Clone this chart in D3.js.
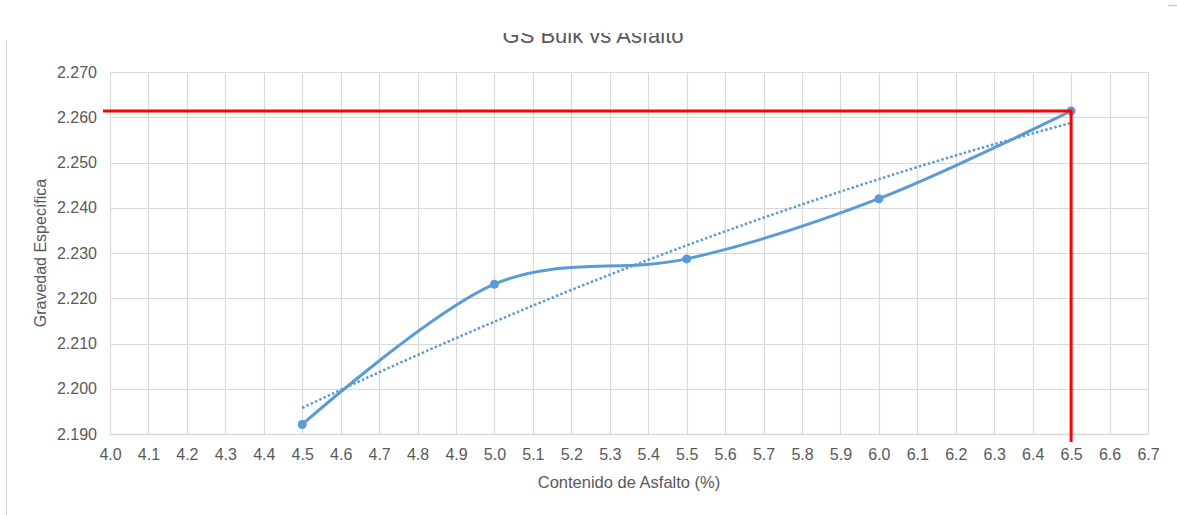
<!DOCTYPE html>
<html>
<head>
<meta charset="utf-8">
<script src="https://cdn.jsdelivr.net/npm/d3@7/dist/d3.min.js"></script>
<style>
  html, body { margin: 0; padding: 0; background: #fff; }
  svg { display: block; }
</style>
</head>
<body>
<svg id="chart" width="1177" height="515"></svg>
<script>
// Asphalt content (%) and bulk specific gravity
const asphalt = [4.5, 5.0, 5.5, 6.0, 6.5];
const gravity = [2.1921, 2.2231, 2.2287, 2.2420, 2.2614];

// Axis tick values
const xTicks = d3.range(40, 68).map(v => v / 10);
const yTicks = [2.19, 2.20, 2.21, 2.22, 2.23, 2.24, 2.25, 2.26, 2.27];

const titleText = "GS Bulk vs Asfalto";
const xTitle = "Contenido de Asfalto (%)";
const yTitle = "Gravedad Específica";

const svg = d3.select("#chart");
const font = "'Liberation Sans', Arial, sans-serif";
const textColor = "#595959";
const gridColor = "#d9d9d9";
const blue = "#5b9bd5";

const x = d3.scaleLinear().domain([4.0, 6.7]).range([110, 1148]);
const y = d3.scaleLinear().domain([2.19, 2.27]).range([434, 72]);

// Second-order polynomial least-squares trend of the data
function polyFit2(xs, ys) {
  const n = xs.length;
  let s = [0, 0, 0, 0, 0], t = [0, 0, 0];
  xs.forEach((xv, i) => {
    for (let k = 0; k < 5; k++) s[k] += Math.pow(xv, k);
    for (let k = 0; k < 3; k++) t[k] += Math.pow(xv, k) * ys[i];
  });
  const M = [[s[0], s[1], s[2], t[0]], [s[1], s[2], s[3], t[1]], [s[2], s[3], s[4], t[2]]];
  for (let c = 0; c < 3; c++) {
    for (let r = c + 1; r < 3; r++) {
      const f = M[r][c] / M[c][c];
      for (let k = c; k < 4; k++) M[r][k] -= f * M[c][k];
    }
  }
  const b = [0, 0, 0];
  for (let r = 2; r >= 0; r--) {
    let v = M[r][3];
    for (let k = r + 1; k < 3; k++) v -= M[r][k] * b[k];
    b[r] = v / M[r][r];
  }
  return xv => b[0] + b[1] * xv + b[2] * xv * xv;
}
const trend = polyFit2(asphalt, gravity);

// Outer frame edge on the left and the small mark at top right
svg.append("line").attr("x1", 6.5).attr("x2", 6.5).attr("y1", 40).attr("y2", 515)
  .attr("stroke", "#d0d0d0").attr("stroke-width", 1);
svg.append("line").attr("x1", 1168).attr("x2", 1177).attr("y1", 5.5).attr("y2", 5.5)
  .attr("stroke", "#c8c8c8").attr("stroke-width", 1.5);

// Chart title, cut off by the top of the chart frame
svg.append("clipPath").attr("id", "titleClip")
  .append("rect").attr("x", 0).attr("y", 33).attr("width", 1177).attr("height", 40);
svg.append("text")
  .attr("clip-path", "url(#titleClip)")
  .attr("x", 593).attr("y", 43)
  .attr("text-anchor", "middle")
  .attr("font-family", font).attr("font-size", 22)
  .attr("fill", textColor)
  .text(titleText);

// Gridlines
const grid = svg.append("g");
grid.selectAll(".gx").data(xTicks).join("line")
  .attr("x1", d => Math.round(x(d)) + 0.5).attr("x2", d => Math.round(x(d)) + 0.5)
  .attr("y1", y(2.27)).attr("y2", y(2.19))
  .attr("stroke", gridColor).attr("stroke-width", 1.2);
grid.selectAll(".gy").data(yTicks).join("line")
  .attr("x1", x(4.0)).attr("x2", x(6.7))
  .attr("y1", d => Math.round(y(d)) + 0.5).attr("y2", d => Math.round(y(d)) + 0.5)
  .attr("stroke", gridColor).attr("stroke-width", 1.2);

// Axes (labels only)
const xAxis = svg.append("g")
  .attr("transform", `translate(0,${y(2.19)})`)
  .call(d3.axisBottom(x).tickValues(xTicks).tickFormat(d3.format(".1f")).tickSize(0).tickPadding(15));
xAxis.select(".domain").attr("stroke", gridColor).attr("stroke-width", 1.5);
xAxis.selectAll("text").attr("font-family", font).attr("font-size", 16).attr("fill", textColor);

const yAxis = svg.append("g")
  .attr("transform", `translate(${x(4.0)},0)`)
  .call(d3.axisLeft(y).tickValues(yTicks).tickFormat(d3.format(".3f")).tickSize(0).tickPadding(13));
yAxis.select(".domain").remove();
yAxis.selectAll("text").attr("font-family", font).attr("font-size", 16).attr("fill", textColor);

// Axis titles
svg.append("text")
  .attr("x", (x(4.0) + x(6.7)) / 2).attr("y", 488)
  .attr("text-anchor", "middle")
  .attr("font-family", font).attr("font-size", 16.5).attr("fill", textColor)
  .text(xTitle);
svg.append("text")
  .attr("transform", `translate(46,${(y(2.19) + y(2.27)) / 2}) rotate(-90)`)
  .attr("text-anchor", "middle")
  .attr("font-family", font).attr("font-size", 16).attr("fill", textColor)
  .text(yTitle);

const pts = asphalt.map((a, i) => [a, gravity[i]]);

// Polynomial trend line (dotted)
const tx = d3.range(0, 101).map(i => asphalt[0] + (asphalt[asphalt.length - 1] - asphalt[0]) * i / 100);
svg.append("path")
  .datum(tx.map(a => [a, trend(a)]))
  .attr("d", d3.line().x(d => x(d[0])).y(d => y(d[1])))
  .attr("fill", "none").attr("stroke", blue)
  .attr("stroke-width", 2.5).attr("stroke-dasharray", "2.5,2.2");

// Smoothed data line
svg.append("path")
  .datum(pts)
  .attr("d", d3.line().x(d => x(d[0])).y(d => y(d[1])).curve(d3.curveCatmullRom.alpha(0)))
  .attr("fill", "none").attr("stroke", blue)
  .attr("stroke-width", 3).attr("stroke-linecap", "round");

// Data markers
svg.selectAll(".pt").data(pts).join("circle")
  .attr("cx", d => x(d[0])).attr("cy", d => y(d[1]))
  .attr("r", 4.5).attr("fill", blue);

// Red guide lines to the highest value
const last = pts[pts.length - 1];
svg.append("path")
  .attr("d", d3.line()([
    [x(4.0) - 7, y(last[1])],
    [x(last[0]), y(last[1])],
    [x(last[0]), y(2.19) + 8]
  ]))
  .attr("fill", "none").attr("stroke", "#ff0000").attr("stroke-width", 3);
</script>
</body>
</html>
